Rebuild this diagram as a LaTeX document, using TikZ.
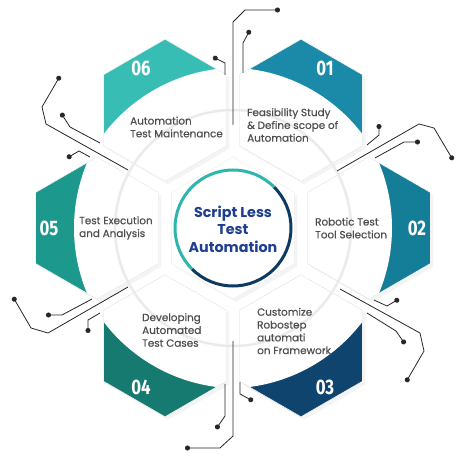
\documentclass[tikz,border=0pt]{standalone}
\usepackage{fontspec}
\setmainfont{Poppins}
\newfontfamily\slnumfont{Fira Sans}[FakeStretch=0.8]
\newfontfamily\sllabelfont{Poppins}[FakeBold=0.4]
\definecolor{c01}{RGB}{26,138,168}
\definecolor{c02}{RGB}{20,126,153}
\definecolor{c03}{RGB}{14,68,110}
\definecolor{c04}{RGB}{22,122,112}
\definecolor{c05}{RGB}{28,152,140}
\definecolor{c06}{RGB}{56,189,181}
\definecolor{titleblue}{RGB}{30,62,145}
\definecolor{ringteal}{RGB}{47,182,172}
\definecolor{ringdark}{RGB}{12,58,96}
\definecolor{labelgrey}{RGB}{78,78,78}
\usetikzlibrary{
	arrows.meta,
	shadows
}
\tikzset{
  % hexagon
	slhexpath/.style  ={insert path={(30:71)--(90:71)--(150:71)--(210:71)--(270:71)--(330:71)--cycle}},
	slhex/.style      ={fill=white},
	slshadow/.style   ={drop shadow={shadow xshift=3pt,shadow yshift=-3pt,opacity=.09}},
	sledge/.style     ={draw=black!5,line width=.6pt},
	slring/.style     ={draw=black!8,line width=2.5pt},
  % wire
	slwire/.style     ={{Circle[length=5pt]}-,draw=black!85,line width=.8pt},
  % text
	sllabel/.style    ={anchor=west,align=left,inner sep=0,text=labelgrey,font=\sllabelfont\fontsize{10.4}{12.8}\selectfont},
	slnum/.style      ={text=white,inner sep=0,font=\slnumfont\bfseries\fontsize{21}{21}\selectfont},
	sltitle/.style    ={align=center,inner sep=0,text=titleblue,font=\bfseries\fontsize{14.3}{17.5}\selectfont}
}
\begin{document}
\begin{tikzpicture}[x=1pt,y=-1pt]
	\useasboundingbox (0,0) rectangle (474,468);
	\begin{scope}[shift={(233,228)}]
		\foreach \ang/\col/\num in {-60/c01/01,0/c02/02,60/c03/03,120/c04/04,180/c05/05,240/c06/06}{
			\begin{scope}[shift={(\ang:136)}]
				\fill[slhex,slshadow,slhexpath];
				\begin{scope}
					\clip[slhexpath];
					\fill[\col,slhexpath];
					\fill[white] (\ang+180:146) circle (169);
				\end{scope}
				\draw[sledge,slhexpath];
				\node[slnum] (num\num) at (\ang:48) {\num};
			\end{scope}
		}
		\fill[slhex,slshadow,slhexpath];
		\draw[sledge,slhexpath];
		\draw[slring] (0,0) circle (118);
		\fill[white] (0,1) circle (58);
		\draw[ringdark,line width=3pt] (-45:58) arc[start angle=-45,end angle=135,radius=58];
		\draw[ringteal,line width=3pt] (135:58) arc[start angle=135,end angle=315,radius=58];
		\node[sltitle] (title) at (0,1) {Script Less\\Test\\Automation};
	\end{scope}
	% labels
	\node[sllabel] (lab01) at (247,125) {Feasibility Study\\\& Define scope of\\Automation};
	\node[sllabel] (lab02) at (315,228) {Robotic Test\\Tool Selection};
	\node[sllabel] (lab03) at (257,331) {Customize\\Robostep\\automati\\on Framework};
	\node[sllabel] (lab04) at (142,330) {Developing\\Automated\\Test Cases};
	\node[sllabel] (lab05) at (79,228) {Test Execution\\and Analysis};
	\node[sllabel] (lab06) at (130,127) {Automation\\Test Maintenance};
	% wires
	\draw[slwire] (280,10) -- (245,10) -- (233,22) -- (233,125);
	\draw[slwire] (250,30) -- (243,43) -- (243,73);
	\draw[slwire] (213,57) -- (225,63) -- (225,75);
	\draw[slwire] (60,76) -- (42,107) -- (46,124) -- (128,170);
	\draw[slwire] (61,113) -- (70,127) -- (100,143);
	\draw[slwire] (67,158) -- (79,151) -- (90,157);
	\draw[slwire] (379,124) -- (379,135) -- (367,145);
	\draw[slwire] (453,160) -- (434,128) -- (419,124) -- (337,171);
	\draw[slwire] (420,142) -- (404,142) -- (375,158);
	\draw[slwire] (13,297) -- (31,328) -- (48,333) -- (128,287);
	\draw[slwire] (46,315) -- (62,315) -- (92,299);
	\draw[slwire] (88,333) -- (88,320) -- (100,313);
	\draw[slwire] (185,448) -- (220,448) -- (233,436) -- (233,341);
	\draw[slwire] (216,429) -- (225,416) -- (225,384);
	\draw[slwire] (399,299) -- (387,306) -- (374,300);
	\draw[slwire] (406,382) -- (424,351) -- (420,333) -- (340,289);
	\draw[slwire] (405,344) -- (396,331) -- (367,313);
	\draw[slwire] (253,401) -- (240,394) -- (240,382);
\end{tikzpicture}
\end{document}
